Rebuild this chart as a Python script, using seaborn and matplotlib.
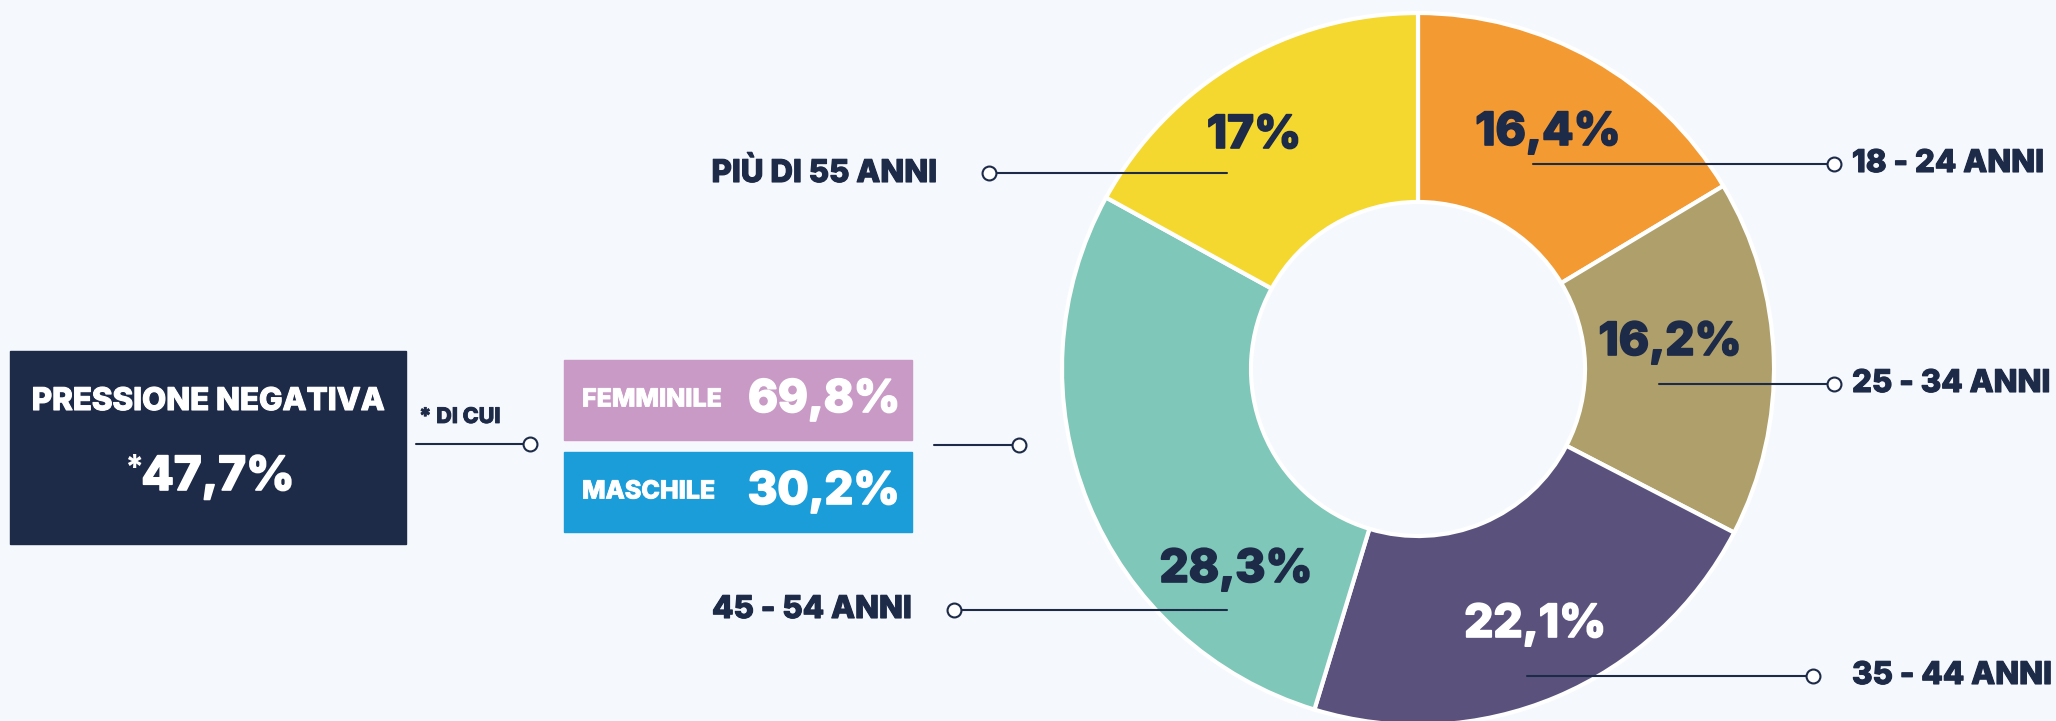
import matplotlib
matplotlib.use("Agg")
import matplotlib.pyplot as plt
from matplotlib.patches import Rectangle
import matplotlib.patheffects as pe
import seaborn as sns

# data
categories = ["18 - 24 ANNI", "25 - 34 ANNI", "35 - 44 ANNI", "45 - 54 ANNI", "PIÙ DI 55 ANNI"]
values = [16.4, 16.2, 22.1, 28.3, 17.0]
value_labels = ["16,4%", "16,2%", "22,1%", "28,3%", "17%"]
wedge_colors = ["#F39A32", "#AE9F6B", "#5A527D", "#7FC7B9", "#F5D82F"]
value_text_colors = ["#1D2A48", "#1D2A48", "white", "#1D2A48", "#1D2A48"]

total_title = "PRESSIONE NEGATIVA"
total_value = "47,7%"
subtitle = "* DI CUI"
gender = ["FEMMINILE", "MASCHILE"]
gender_values = [69.8, 30.2]
gender_colors = ["#C99AC6", "#1B9DD9"]

NAVY = "#1D2A48"
BG = "#F5F8FC"
W, H = 2056, 721

sns.set_theme(style="white")
plt.rcParams['font.family'] = ['Inter', 'DejaVu Sans']


def Y(y):
    # image row -> axes y
    return H - y


def heavy(c, w=1.2):
    return [pe.withStroke(linewidth=w, foreground=c)]


fig = plt.figure(figsize=(W / 100, H / 100), dpi=100, facecolor=BG)
ax = fig.add_axes([0, 0, 1, 1])
ax.set_facecolor(BG)

# donut
cx, cy, R, r = 1418, 369, 356, 167
ax.pie(values, colors=wedge_colors, startangle=90, counterclock=False,
       center=(cx, Y(cy)), radius=R,
       wedgeprops=dict(width=R - r, edgecolor="white", linewidth=3))
ax.set_xlim(0, W)
ax.set_ylim(0, H)
ax.set_aspect("equal")
ax.axis("off")

# value labels inside wedges (image pixel positions)
value_pos = [(1548, 133), (1670, 343), (1535, 625), (1236, 570), (1254, 136)]
for (x, y), lab, c in zip(value_pos, value_labels, value_text_colors):
    ax.text(x, Y(y), lab, ha="center", va="center", fontsize=33,
            fontweight="heavy", color=c, path_effects=heavy(c))

# leader lines: (x_start, x_circle, y, label x, align)
leaders = [
    (1533, 1834, 164, 1852, "left"),
    (1659, 1834, 384, 1852, "left"),
    (1527, 1813, 676, 1852, "left"),
    (1227, 954, 610, 912, "right"),
    (1227, 989, 173, 937, "right"),
]
for (x0, x1, y, tx, al), cat in zip(leaders, categories):
    ax.plot([x0, x1], [Y(y), Y(y)], color=NAVY, lw=1.5, zorder=5)
    ax.plot(x1, Y(y), marker="o", ms=10, mfc="white", mec=NAVY, mew=1.5, zorder=6)
    ax.text(tx, Y(y), cat, ha=al, va="center", fontsize=22.5,
            fontweight="heavy", color=NAVY, path_effects=heavy(NAVY, 0.8))

# left navy box
ax.add_patch(Rectangle((10, Y(544)), 396, 193, color=NAVY, zorder=3))
ax.text(208, Y(402), total_title, ha="center", va="center", fontsize=22.5,
        fontweight="heavy", color="white", zorder=4, path_effects=heavy("white", 0.8))
ax.text(218, Y(478), total_value, ha="center", va="center", fontsize=34,
        fontweight="heavy", color="white", zorder=4, path_effects=heavy("white"))
ax.text(134, Y(470), "*", ha="center", va="center", fontsize=24,
        fontweight="heavy", color="white", zorder=4)

ax.text(419, Y(417), subtitle, ha="left", va="center", fontsize=15.5,
        fontweight="heavy", color=NAVY, path_effects=heavy(NAVY, 0.6))
ax.plot([416, 530], [Y(444), Y(444)], color=NAVY, lw=1.5)
ax.plot(530, Y(444), marker="o", ms=10, mfc="white", mec=NAVY, mew=1.5)

# gender boxes
box_tops = [360, 452]
for top, name, v, c in zip(box_tops, gender, gender_values, gender_colors):
    ax.add_patch(Rectangle((564, Y(top + 80)), 348, 80, color=c, zorder=3))
    ax.text(582, Y(top + 40), name, ha="left", va="center", fontsize=18,
            fontweight="heavy", color="white", zorder=4, path_effects=heavy("white", 0.6))
    ax.text(900, Y(top + 40), f"{v:.1f}%".replace(".", ","), ha="right",
            va="center", fontsize=32.5, fontweight="heavy", color="white", zorder=4,
            path_effects=heavy("white"))

ax.plot([934, 1019], [Y(445), Y(445)], color=NAVY, lw=1.5)
ax.plot(1019, Y(445), marker="o", ms=10, mfc="white", mec=NAVY, mew=1.5)

fig.savefig("out.png", dpi=100, facecolor=BG)
